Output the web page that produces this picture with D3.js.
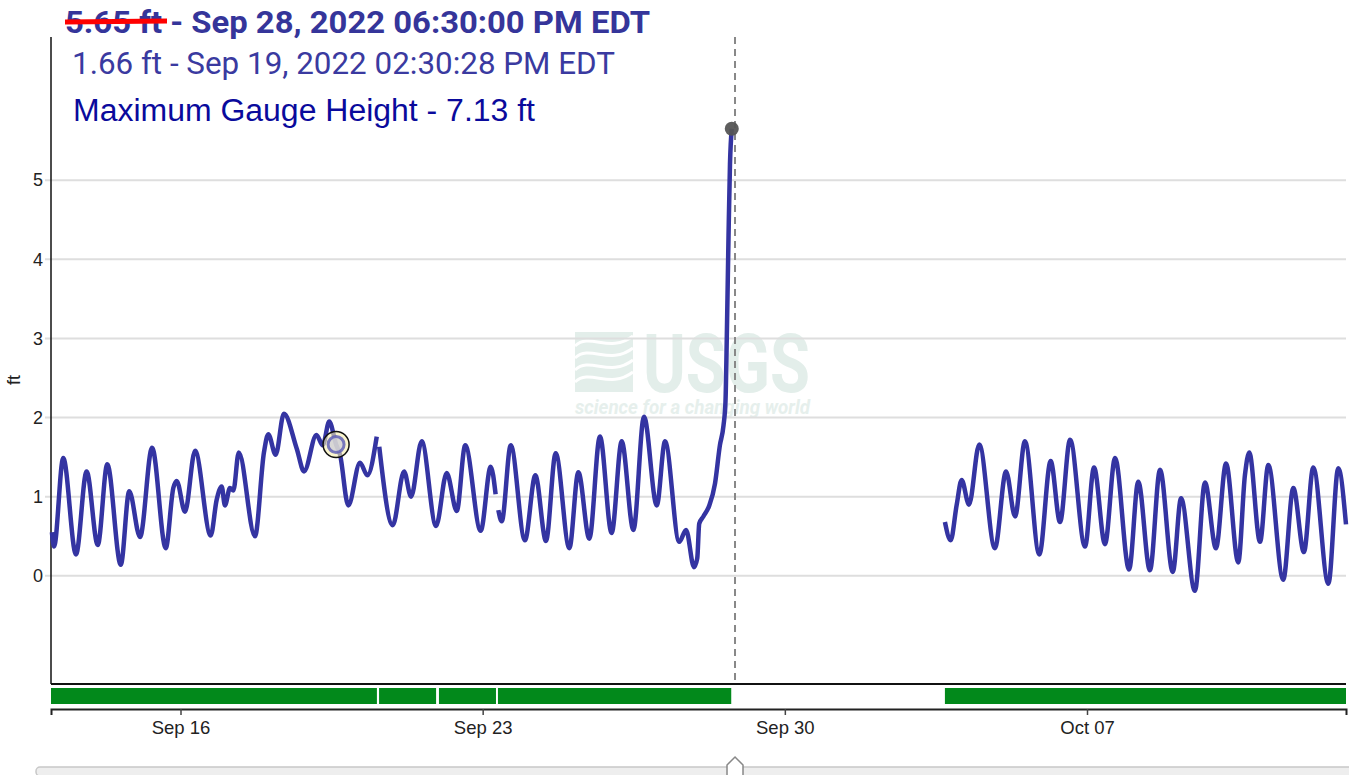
<!DOCTYPE html>
<html>
<head>
<meta charset="utf-8">
<script src="https://cdn.jsdelivr.net/npm/d3@7"></script>
<style>
  body { margin: 0; background: #fff; }
  svg { display: block; }
</style>
</head>
<body>
<svg id="chart"></svg>
<script>
// gauge height readings, hours after Sep 13 2022 00:00 (null = missing data)
var gaugeHours = [0.5, 1.7, 6.8, 13.9, 19.8, 26.0, 31.3, 38.8, 43.5, 49.5, 56.2, 63.8, 68.0, 69.9, 74.5, 80.1,
  88.8, 92.1, 94.9, 96.7, 99.5, 101.4, 104.4, 113.4, 118.4, 120.8, 124.9, 129.5, 136.6, 140.7, 147.6, 151.1,
  154.7, 158.5, 160.7, 165.3, 171.8, 175.9, 181.1, 181.8,
  182.5, 190.0, 196.3, 200.2, 206.1, 214.1, 220.0, 225.6, 230.3, 238.9, 244.5, 247.2, 247.9,
  248.7, 250.6, 255.6, 263.5, 269.3, 275.2, 280.6, 288.2, 293.2, 299.3, 305.2, 311.7, 317.3, 323.8, 329.7,
  336.8, 341.4, 349.3, 353.1, 357.5, 359.3, 360.4, 362.7, 366.0, 369.2, 371.9, 373.9, 375.0, 375.8, 376.7,
  377.5, 378.5, 440,
  497.0, 500.2, 503.5, 506.3, 510.4, 516.1, 524.8, 531.0, 536.0, 541.5, 549.5, 555.8, 561.0, 566.6, 574.9,
  579.9, 586.0, 591.6, 599.4, 604.5, 611.0, 616.6, 623.7, 628.3, 636.0, 641.6, 647.7, 653.3, 660.1, 663.8,
  666.2, 672.2, 676.8, 685.1, 690.7, 696.6, 701.8, 710.2, 715.7, 720.0];
var gaugeFt = [0.55, 0.37, 1.49, 0.27, 1.32, 0.39, 1.41, 0.14, 1.07, 0.49, 1.62, 0.35, 1.11, 1.20, 0.81, 1.58,
  0.51, 0.96, 1.13, 0.89, 1.11, 1.08, 1.56, 0.50, 1.56, 1.79, 1.53, 2.05, 1.61, 1.32, 1.78, 1.65,
  1.95, 1.66, 1.53, 0.89, 1.43, 1.27, 1.76, null,
  1.63, 0.64, 1.32, 1.00, 1.70, 0.63, 1.30, 0.82, 1.65, 0.57, 1.38, 1.03, null,
  0.83, 0.69, 1.65, 0.45, 1.27, 0.44, 1.55, 0.35, 1.31, 0.47, 1.76, 0.54, 1.70, 0.58, 2.01,
  0.89, 1.70, 0.43, 0.58, 0.11, 0.22, 0.66, 0.75, 0.89, 1.17, 1.65, 1.90, 2.20, 3.10, 4.30,
  5.20, 5.65, null,
  0.68, 0.45, 0.89, 1.21, 0.90, 1.66, 0.35, 1.32, 0.75, 1.70, 0.27, 1.45, 0.68, 1.72, 0.37,
  1.37, 0.40, 1.49, 0.08, 1.19, 0.07, 1.34, 0.05, 0.98, -0.19, 1.18, 0.35, 1.42, 0.17, 1.27,
  1.56, 0.43, 1.40, -0.05, 1.11, 0.30, 1.37, -0.10, 1.36, 0.65];

// approval bar segments (hours)
var approvedStart = [0, 182.4, 215.7, 248.5, 497.0];
var approvedEnd = [181.2, 214.1, 247.4, 378.2, 720.0];

var yTicks = [0, 1, 2, 3, 4, 5];
var xTickDays = ["2022-09-16", "2022-09-23", "2022-09-30", "2022-10-07"];

var startTime = Date.UTC(2022, 8, 13);
var endTime = Date.UTC(2022, 9, 13);
var yMin = -1.367, yMax = 6.81;

var selectedHour = 378.5, selectedFt = 5.65;   // Sep 28 06:30 PM
var markerHour = 158.5, markerFt = 1.66;       // Sep 19 02:30 PM
var cursorHour = 380.3;

var toDate = function(h) { return new Date(startTime + h * 3600e3); };

var labelFont = "Liberation Sans, Arial, sans-serif";

var drawChart = function()
{
    var screen = {width: 1349, height: 775};
    var plot = {left: 51, right: 1346, top: 37, bottom: 684};

    var svg = d3.select("#chart")
        .attr("width", screen.width)
        .attr("height", screen.height);

    var xScale = d3.scaleTime()
        .domain([new Date(startTime), new Date(endTime)])
        .range([plot.left, plot.right]);

    var yScale = d3.scaleLinear()
        .domain([yMin, yMax])
        .range([plot.bottom, plot.top]);

    // watermark
    var wm = svg.append("g").attr("transform", "translate(575,332)");
    wm.append("rect").attr("width", 58).attr("height", 60).attr("fill", "#e3eeea");
    [14, 26, 38, 50].forEach(function(o) {
        wm.append("path")
            .attr("d", "M0," + o + " C15," + (o - 14) + " 35," + (o + 8) + " 58," + (o - 10))
            .attr("fill", "none").attr("stroke", "#fff").attr("stroke-width", 3);
    });
    wm.append("text").text("USGS")
        .attr("x", 68).attr("y", 60)
        .attr("textLength", 167).attr("lengthAdjust", "spacingAndGlyphs")
        .style("font-family", "Roboto, sans-serif").style("font-weight", "bold")
        .style("font-size", "82px").attr("fill", "#e3eeea");
    wm.append("text").text("science for a changing world")
        .attr("x", 0).attr("y", 82)
        .attr("textLength", 235).attr("lengthAdjust", "spacingAndGlyphs")
        .style("font-family", "Roboto, sans-serif").style("font-weight", "bold").style("font-style", "italic")
        .style("font-size", "20px").attr("fill", "#e6efec");

    // grid lines
    svg.append("g")
        .selectAll("line")
        .data(yTicks)
        .enter()
        .append("line")
        .attr("x1", plot.left - 6)
        .attr("x2", plot.right)
        .attr("y1", function(d) { return yScale(d); })
        .attr("y2", function(d) { return yScale(d); })
        .attr("stroke", "#dedede")
        .attr("stroke-width", 2);

    // y labels
    var yAxis = d3.axisLeft(yScale).tickValues(yTicks).tickSize(0).tickPadding(8).tickFormat(d3.format("d"));
    var yg = svg.append("g")
        .attr("transform", "translate(" + plot.left + ",0)")
        .call(yAxis);
    yg.select(".domain").remove();
    yg.selectAll(".tick text")
        .style("font-family", labelFont).style("font-size", "18px").attr("fill", "#222");

    svg.append("line")
        .attr("x1", plot.left).attr("x2", plot.left)
        .attr("y1", plot.top).attr("y2", plot.bottom)
        .attr("stroke", "#111").attr("stroke-width", 1.5);
    svg.append("line")
        .attr("x1", plot.left).attr("x2", plot.right)
        .attr("y1", plot.bottom).attr("y2", plot.bottom)
        .attr("stroke", "#111").attr("stroke-width", 2);

    svg.append("g")
        .attr("transform", "translate(20," + 380 + ")")
        .append("text")
        .text("ft")
        .attr("transform", "rotate(270)")
        .attr("text-anchor", "middle")
        .style("font-family", labelFont)
        .style("font-size", "18px")
        .attr("fill", "#222");

    // cursor line
    svg.append("line")
        .attr("x1", xScale(toDate(cursorHour))).attr("x2", xScale(toDate(cursorHour)))
        .attr("y1", plot.top).attr("y2", plot.bottom)
        .attr("stroke", "#888").attr("stroke-width", 2)
        .attr("stroke-dasharray", "7,5");

    // gauge line
    var points = gaugeHours.map(function(h, i) { return {date: toDate(h), ft: gaugeFt[i]}; });
    var line = d3.line()
        .defined(function(d) { return d.ft !== null; })
        .x(function(d) { return xScale(d.date); })
        .y(function(d) { return yScale(d.ft); })
        .curve(d3.curveMonotoneX);
    svg.append("path")
        .datum(points)
        .attr("d", line)
        .attr("fill", "none")
        .attr("stroke", "#3434a2")
        .attr("stroke-width", 4.5)
        .attr("stroke-linejoin", "round");

    // selected point
    svg.append("circle")
        .attr("cx", xScale(toDate(selectedHour)))
        .attr("cy", yScale(selectedFt))
        .attr("r", 7)
        .attr("fill", "#555")
        .attr("fill-opacity", 0.95);

    // marker
    var mx = xScale(toDate(markerHour)), my = yScale(markerFt);
    svg.append("circle").attr("cx", mx).attr("cy", my).attr("r", 13)
        .attr("fill", "#f6eeae").attr("fill-opacity", 0.6)
        .attr("stroke", "#111").attr("stroke-width", 1.5);
    svg.append("circle").attr("cx", mx).attr("cy", my).attr("r", 8)
        .attr("fill", "#cfcfd8").attr("fill-opacity", 0.8)
        .attr("stroke", "#5b5bb5").attr("stroke-width", 3).attr("stroke-opacity", 0.8);

    // approval bars
    svg.append("g")
        .selectAll("rect")
        .data(approvedStart)
        .enter()
        .append("rect")
        .attr("x", function(d) { return xScale(toDate(d)); })
        .attr("width", function(d, i) { return xScale(toDate(approvedEnd[i])) - xScale(toDate(d)); })
        .attr("y", 688)
        .attr("height", 16)
        .attr("fill", "#02891b");

    // x axis
    var xAxis = d3.axisBottom(xScale)
        .tickValues(xTickDays.map(function(s) { return new Date(s + "T00:00:00Z"); }))
        .tickFormat(d3.utcFormat("%b %d"))
        .tickSizeOuter(0)
        .tickSize(6)
        .tickPadding(6);
    var xg = svg.append("g")
        .attr("transform", "translate(0,709)")
        .call(xAxis);
    xg.select(".domain").attr("stroke", "#222").attr("stroke-width", 2);
    xg.selectAll(".tick line").attr("stroke", "#444").attr("stroke-width", 1.5);
    xg.selectAll(".tick text")
        .style("font-family", labelFont).style("font-size", "18.5px").attr("fill", "#222");

    // slider
    svg.append("rect")
        .attr("x", 36).attr("y", 767).attr("width", 1330).attr("height", 9)
        .attr("rx", 4)
        .attr("fill", "#eeeeee").attr("stroke", "#c8c8c8").attr("stroke-width", 1.5);
    var hx = xScale(toDate(cursorHour));
    svg.append("path")
        .attr("d", "M" + (hx - 8) + ",775 L" + (hx - 8) + ",765 L" + hx + ",757 L" + (hx + 8) + ",765 L" + (hx + 8) + ",775")
        .attr("fill", "#fff").attr("stroke", "#888").attr("stroke-width", 1.5);

    // header texts
    var head = svg.append("g");
    head.append("text")
        .text("5.65 ft - Sep 28, 2022 06:30:00 PM EDT")
        .attr("x", 65).attr("y", 33)
        .attr("textLength", 585).attr("lengthAdjust", "spacingAndGlyphs")
        .style("font-family", "Roboto, sans-serif").style("font-weight", "bold")
        .style("font-size", "31px").attr("fill", "#35359a");
    head.append("line")
        .attr("x1", 65).attr("x2", 167).attr("y1", 22).attr("y2", 21)
        .attr("stroke", "#ff0000").attr("stroke-width", 5);
    head.append("text")
        .text("1.66 ft - Sep 19, 2022 02:30:28 PM EDT")
        .attr("x", 72).attr("y", 74)
        .attr("textLength", 543).attr("lengthAdjust", "spacingAndGlyphs")
        .style("font-family", "Roboto, sans-serif")
        .style("font-size", "31px").attr("fill", "#3a3aa0");
    head.append("text")
        .text("Maximum Gauge Height - 7.13 ft")
        .attr("x", 73).attr("y", 121)
        .attr("textLength", 462).attr("lengthAdjust", "spacingAndGlyphs")
        .style("font-family", labelFont)
        .style("font-size", "31px").attr("fill", "#0a0a9c");
};

drawChart();
</script>
</body>
</html>
